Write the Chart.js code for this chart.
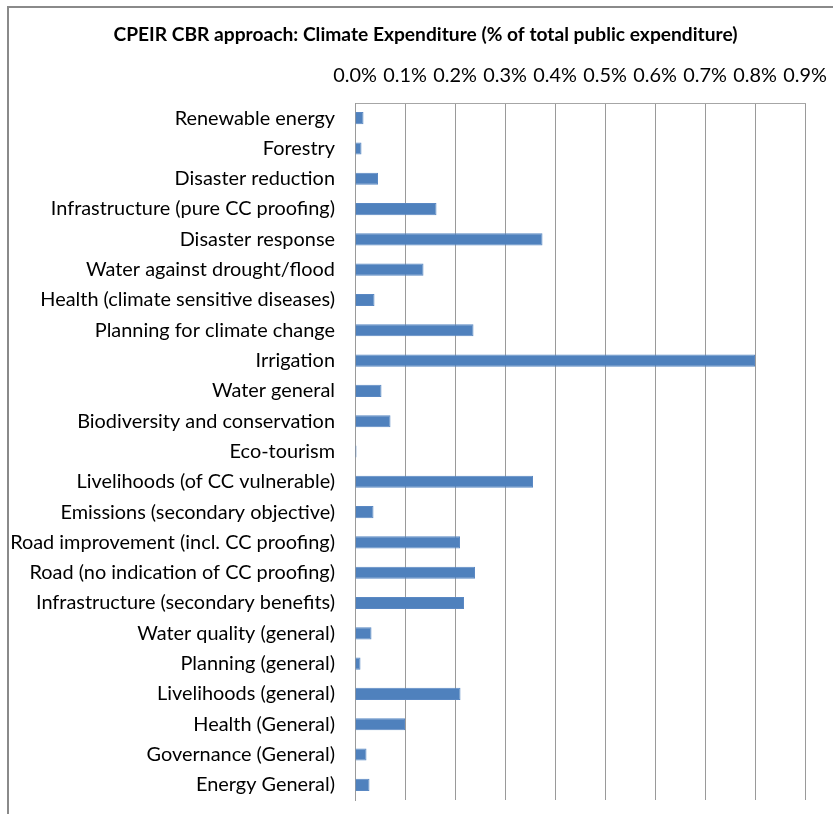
<!DOCTYPE html>
<html>
<head>
<meta charset="utf-8">
<script src="https://cdn.jsdelivr.net/npm/chart.js@4/dist/chart.umd.min.js"></script>
<style>
  html, body { margin: 0; padding: 0; background: #fff; overflow: hidden; width: 833px; height: 814px; }
  #frame { position: absolute; left: 7px; top: 6px; width: 1000px; height: 1000px;
           border-left: 2px solid #8a8a8a; border-top: 2px solid #8a8a8a; box-sizing: border-box; }
  #c { position: absolute; left: 0; top: 0; }
</style>
</head>
<body>
<div id="frame"></div>
<canvas id="c" width="833" height="814"></canvas>
<script>
const chartTitle = 'CPEIR CBR approach: Climate Expenditure (% of total public expenditure)';

const categories = [
  'Renewable energy',
  'Forestry',
  'Disaster reduction',
  'Infrastructure (pure CC proofing)',
  'Disaster response',
  'Water against drought/flood',
  'Health (climate sensitive diseases)',
  'Planning for climate change',
  'Irrigation',
  'Water general',
  'Biodiversity and conservation',
  'Eco-tourism',
  'Livelihoods (of CC vulnerable)',
  'Emissions (secondary objective)',
  'Road improvement (incl. CC proofing)',
  'Road (no indication of CC proofing)',
  'Infrastructure (secondary benefits)',
  'Water quality (general)',
  'Planning (general)',
  'Livelihoods (general)',
  'Health (General)',
  'Governance (General)',
  'Energy General)'
];

// percent of total public expenditure
const expenditurePct = [
  0.017, 0.013, 0.046, 0.163, 0.375, 0.137, 0.039, 0.237, 0.800, 0.053,
  0.071, 0.003, 0.356, 0.037, 0.210, 0.240, 0.218, 0.033, 0.011, 0.211,
  0.100, 0.023, 0.029
];

const tickValues = [0, 0.1, 0.2, 0.3, 0.4, 0.5, 0.6, 0.7, 0.8, 0.9];

const FAMILY = 'Lato';

function fitSize(text, weight, target) {
  const ctx = document.createElement('canvas').getContext('2d');
  ctx.font = weight + ' 100px ' + FAMILY;
  return 100 * target / ctx.measureText(text).width;
}

function build() {
  const labelSize = Math.round(fitSize('Infrastructure (pure CC proofing)', 'normal', 285) * 10) / 10;
  const titleSize = Math.round(fitSize(chartTitle, 'bold', 625) * 10) / 10;

  const PLOT_TOP = 103, PLOT_LEFT = 355, PAD_R = 28, PAD_B = 14;

  Chart.defaults.font.family = FAMILY;
  Chart.defaults.color = '#000';

  const titlePlugin = {
    id: 'centeredTitle',
    afterDraw(chart) {
      const ctx = chart.ctx;
      ctx.save();
      ctx.font = 'bold ' + titleSize + 'px ' + FAMILY;
      ctx.fillStyle = '#000';
      ctx.textAlign = 'center';
      ctx.textBaseline = 'middle';
      ctx.fillText(chartTitle, 425.5, 35);
      ctx.restore();
    }
  };

  new Chart(document.getElementById('c'), {
    type: 'bar',
    data: {
      labels: categories,
      datasets: [{
        data: expenditurePct,
        backgroundColor: '#4F81BD',
        borderColor: '#5A88C3',
        borderWidth: 1,
        barPercentage: 0.4,
        categoryPercentage: 1.0
      }]
    },
    options: {
      indexAxis: 'y',
      responsive: false,
      animation: false,
      devicePixelRatio: 1,
      layout: { padding: { left: 0, right: PAD_R, top: 0, bottom: PAD_B } },
      plugins: {
        legend: { display: false },
        tooltip: { enabled: false },
        title: { display: false }
      },
      scales: {
        x: {
          position: 'top',
          min: 0,
          max: 0.9,
          afterBuildTicks: (scale) => { scale.ticks = tickValues.map(v => ({ value: v })); },
          afterFit: (scale) => {
            scale.height = PLOT_TOP;
            scale.paddingLeft = 0; scale.paddingRight = 0;
            scale.paddingTop = 0; scale.paddingBottom = 0;
          },
          ticks: {
            padding: 15,
            maxRotation: 0,
            autoSkip: false,
            font: { size: labelSize },
            color: '#000',
            callback: (v) => Number(v).toFixed(1) + '%'
          },
          grid: { color: '#9a9a9a', lineWidth: 1, drawTicks: false },
          border: { display: true, color: '#a6a6a6', width: 1 }
        },
        y: {
          afterFit: (scale) => {
            scale.width = PLOT_LEFT;
            scale.paddingLeft = 0; scale.paddingRight = 0;
            scale.paddingTop = 0; scale.paddingBottom = 0;
          },
          ticks: {
            padding: 20,
            autoSkip: false,
            font: { size: labelSize },
            color: '#000'
          },
          grid: { display: false, drawTicks: false },
          border: { display: true, color: '#9a9a9a', width: 1 }
        }
      }
    },
    plugins: [titlePlugin]
  });
}

if (document.fonts && document.fonts.load) {
  Promise.all([
    document.fonts.load('20px ' + FAMILY),
    document.fonts.load('bold 20px ' + FAMILY)
  ]).then(build, build);
} else {
  build();
}
</script>
</body>
</html>
